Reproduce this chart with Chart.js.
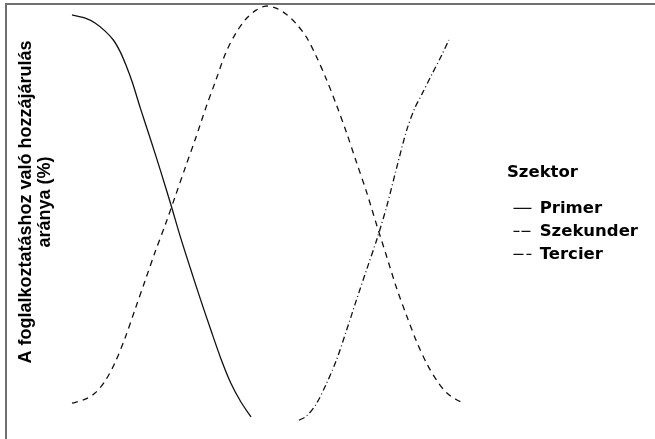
<!DOCTYPE html>
<html>
<head>
<meta charset="utf-8">
<script src="https://cdn.jsdelivr.net/npm/chart.js@4"></script>
<style>
    body { margin: 0; background: #fff; }
    #wrap { position: relative; width: 655px; height: 439px; }
    #frame {
        position: absolute; left: 5px; top: 3px; right: 0; bottom: 0;
        border-top: 2px solid #707070; border-left: 2px solid #707070;
        pointer-events: none;
    }
</style>
</head>
<body>
<div id="wrap">
    <canvas id="chart"></canvas>
    <div id="frame"></div>
</div>
<script>
// Szektorok (Clark-Fisher modell)
const seriesNames = ['Primer', 'Szekunder', 'Tercier'];
const yTitle = ['A foglalkoztatáshoz való hozzájárulás', 'aránya (%)'];

// Primer szektor
const primerX = [0, 3.4, 5.9, 8.5, 10.6, 12.4, 13.9, 15.5, 17.5, 20.1, 22.7, 25.3, 27.8, 30.4, 33.0, 35.6, 38.1, 40.7, 43.3, 45.9];
const primerY = [96.3, 95.5, 94.3, 92.3, 90.1, 87.1, 83.7, 79.5, 73.3, 65.6, 57.7, 49.5, 41.3, 33.4, 25.7, 18.3, 11.4, 5.2, 0.5, -3.2];

// Szekunder szektor
const szekunderX = [0, 3.4, 5.9, 8.5, 11.1, 13.7, 16.2, 18.8, 21.4, 24.0, 26.5, 29.1, 31.7, 34.3, 36.9, 39.4, 42.0, 44.6, 47.2, 49.7,
    52.3, 54.9, 57.5, 60.1, 62.6, 65.2, 67.8, 70.4, 72.9, 75.5, 78.1, 80.7, 83.2, 85.8, 88.4, 91.0, 93.6, 96.1, 98.7, 100.5];
const szekunderY = [0.2, 1.2, 2.7, 5.7, 10.4, 16.6, 23.5, 30.7, 37.9, 44.6, 51.5, 58.7, 65.8, 73.3, 80.2, 86.9, 91.8, 95.3, 97.5, 98.5,
    98.0, 96.5, 94.1, 90.8, 86.1, 80.4, 74.0, 67.1, 59.9, 52.5, 44.3, 36.4, 28.7, 21.8, 15.3, 9.9, 5.7, 2.7, 1.0, 0.2];

// Tercier szektor
const tercierX = [58.2, 60.1, 62.6, 65.2, 67.8, 70.4, 72.9, 75.5, 78.1, 80.7, 83.2, 85.8, 87.9, 89.7, 92.3, 94.8, 96.6];
const tercierY = [-4.0, -3.0, 0, 5.0, 10.9, 18.3, 25.7, 33.2, 40.6, 49.0, 58.4, 67.8, 73.3, 76.7, 81.7, 86.4, 90.1];

function toPoints(xs, ys) {
    return xs.map((x, i) => ({ x: x, y: ys[i] }));
}

function makeDataset(label, xs, ys, dash) {
    return {
        label: label,
        data: toPoints(xs, ys),
        borderColor: '#111',
        backgroundColor: 'rgba(0,0,0,0)',
        borderWidth: 1.3,
        borderDash: dash,
        pointRadius: 0,
        tension: 0.3,
        clip: false
    };
}

document.addEventListener('DOMContentLoaded', function() {
    const ctx = document.getElementById('chart').getContext('2d');

    new Chart(ctx, {
        type: 'line',
        data: {
            datasets: [
                makeDataset(seriesNames[0], primerX, primerY, []),
                makeDataset(seriesNames[1], szekunderX, szekunderY, [6, 5]),
                makeDataset(seriesNames[2], tercierX, tercierY, [6, 3, 1, 3])
            ]
        },
        options: {
            responsive: true,
            maintainAspectRatio: false,
            animation: false,
            layout: {
                padding: { left: 6, right: 7, top: 0, bottom: 35 }
            },
            plugins: {
                tooltip: { enabled: false },
                legend: {
                    position: 'right',
                    align: 'center',
                    title: {
                        display: true,
                        text: 'Szektor',
                        position: 'start',
                        color: '#000',
                        font: { family: 'DejaVu Sans', size: 16.5, weight: 'bold' },
                        padding: { top: 30, bottom: 9 }
                    },
                    labels: {
                        boxWidth: 18,
                        boxHeight: 0,
                        padding: 6.5,
                        color: '#000',
                        font: { family: 'DejaVu Sans', size: 16.5, weight: 'bold' }
                    }
                }
            },
            scales: {
                x: {
                    type: 'linear',
                    min: 0,
                    max: 111.5,
                    display: false
                },
                y: {
                    min: 0,
                    max: 100,
                    grid: { display: false },
                    border: { display: false },
                    ticks: { display: false },
                    title: {
                        display: true,
                        text: yTitle,
                        color: '#000',
                        font: { family: 'Liberation Sans', size: 18, weight: 'bold', lineHeight: 1.05 },
                        padding: { top: 11, bottom: 0 }
                    },
                    afterFit: function(scale) {
                        scale.width = 66;
                    }
                }
            }
        }
    });
});
</script>
</body>
</html>
